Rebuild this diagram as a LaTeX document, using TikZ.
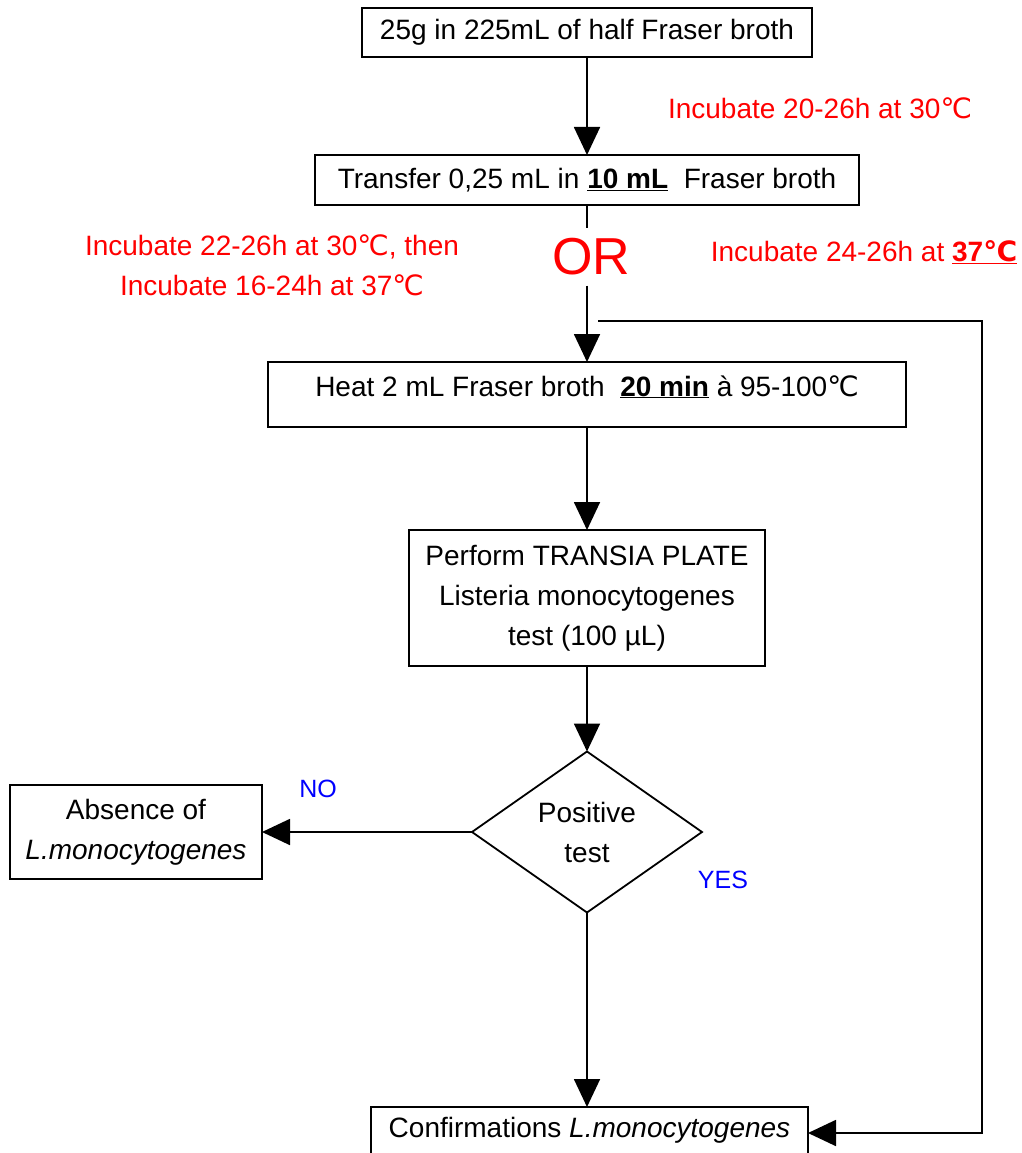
\documentclass[tikz,border=0pt]{standalone}
\usepackage{fontspec}
\setmainfont{Liberation Sans}
\newfontfamily\djv{DejaVu Sans}
\usetikzlibrary{arrows.meta,shapes.geometric}
\tikzset{
  box/.style={draw,line width=1.8pt,inner sep=0pt,outer sep=0pt,align=center},
  ar/.style={-{Triangle[length=28pt,width=26pt]},line width=1.8pt},
  ln/.style={line width=1.8pt},
  inc/.style={text=red,align=center},
  ans/.style={text=blue,font=\fontsize{25}{30}\selectfont}
}
\newcommand{\dgc}{{\djv ℃}}
\newcommand{\bu}[1]{\underline{\textbf{#1}}}

\begin{document}
\begin{tikzpicture}[x=1pt,y=-1pt,font=\fontsize{28}{40}\selectfont]
\useasboundingbox (0,0) rectangle (1021,1153);
% main column
\node[box,minimum width=450pt,minimum height=49pt] (start) at (587,32.5) {25g in 225mL of half Fraser broth};
\node[box,minimum width=544pt,minimum height=50pt] (trans) at (587,180) {Transfer 0,25 mL in \bu{10 mL}\ \ Fraser broth};
\node[text=red,font=\fontsize{52}{60}\selectfont,inner sep=10pt] (orx) at (591,257) {OR};
\node[box,minimum width=638pt,text height=34pt,text depth=31pt,anchor=north] (heat) at (587,362) {Heat 2 mL Fraser broth\ \ \bu{20 min} à 95-100\dgc};
\node[box,minimum width=356pt,minimum height=136pt] (perform) at (587,598) {Perform TRANSIA PLATE\\Listeria monocytogenes\\test (100 µL)};
\node[draw,diamond,line width=1.8pt,minimum width=230pt,minimum height=161pt,inner sep=0pt,outer sep=0pt,align=center] (test) at (587,832) {Positive\\test};
\node[box,minimum width=252pt,minimum height=94pt] (absent) at (136,832) {Absence of\\\textit{L.monocytogenes}};
\node[box,minimum width=437pt,text height=30pt,text depth=22pt,anchor=north] (conf) at (589.5,1107) {Confirmations \textit{L.monocytogenes}};
% incubation notes
\node[inc] (inc1) at (820,108) {Incubate 20-26h at 30\dgc};
\node[inc] (inc2) at (272,265) {Incubate 22-26h at 30\dgc, then\\Incubate 16-24h at 37\dgc};
\node[inc] (inc3) at (864,252) {Incubate 24-26h at \bu{37\dgc}};
\node[ans] (no) at (318,789) {NO};
\node[ans] (yes) at (723,880) {YES};
% connectors
\coordinate (gap) at (598,321);
\coordinate (rt) at (982,321);
\draw[ar] (start) -- (trans);
\draw[ln] (trans.south) -- (trans.south |- orx.north);
\draw[ar] (trans.south |- orx.south) -- (heat.north);
\draw[ar] (heat) -- (perform);
\draw[ar] (perform) -- (test);
\draw[ar] (test) -- (absent);
\draw[ar] (test.south) -- (test.south |- conf.north);
\draw[ar] (gap) -- (rt) |- (conf.east);
\end{tikzpicture}
\end{document}
